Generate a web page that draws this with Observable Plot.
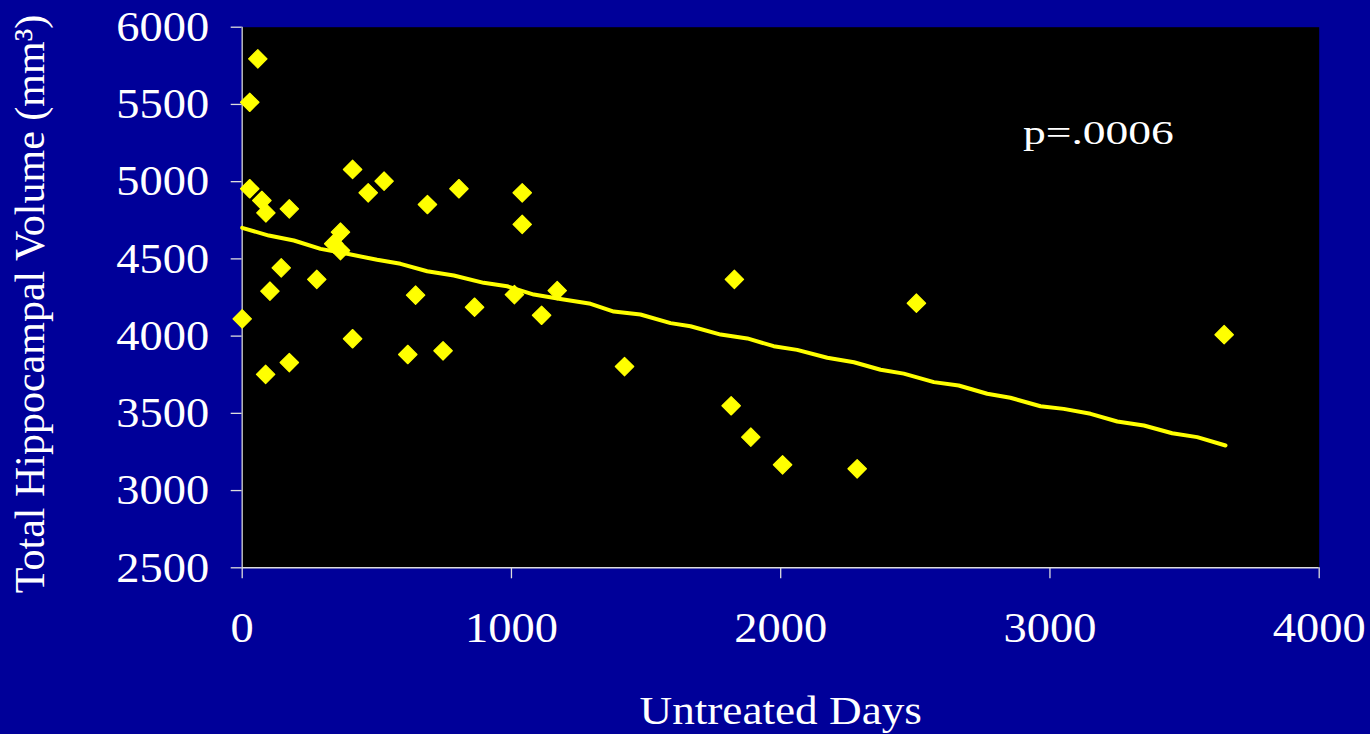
<!DOCTYPE html>
<html>
<head>
<meta charset="utf-8">
<script src="https://cdn.jsdelivr.net/npm/d3@7"></script>
<script src="https://cdn.jsdelivr.net/npm/@observablehq/plot@0.6"></script>
<style>
  html, body { margin: 0; padding: 0; background: #000099; overflow: hidden; }
</style>
</head>
<body>
<div id="chart"></div>
<script>
// ---- Data ----
const untreatedDays = [0, 28, 58, 28, 73, 88, 87, 103, 145, 175, 175, 277, 340, 365, 365, 410, 410, 468, 527, 615, 644, 688, 746, 805, 863, 1011, 1040, 1040, 1112, 1170, 1420, 1816, 1828, 1889, 2007, 2284, 2504, 3647];
const volume =        [4112, 5514, 5795, 4954, 4878, 4798, 3752, 4291, 4442, 4824, 3829, 4367, 4598, 4673, 4554, 5079, 3983, 4928, 5003, 3881, 4265, 4852, 3905, 4954, 4187, 4269, 4928, 4723, 4135, 4295, 3803, 3549, 4367, 3346, 3167, 3141, 4213, 4009];

const fitDays = [0, 99, 192, 291, 390, 501, 588, 687, 786, 897, 984, 1083, 1182, 1294, 1380, 1479, 1591, 1665, 1777, 1876, 1974, 2061, 2173, 2272, 2371, 2457, 2569, 2661, 2767, 2853, 2965, 3051, 3151, 3250, 3349, 3454, 3547, 3652];
const fitVolume = [4701, 4651, 4619, 4565, 4533, 4494, 4468, 4420, 4392, 4345, 4323, 4269, 4240, 4209, 4159, 4140, 4084, 4064, 4010, 3985, 3935, 3911, 3860, 3831, 3782, 3757, 3702, 3680, 3627, 3601, 3546, 3529, 3497, 3447, 3421, 3371, 3346, 3292];

const xTicks = [0, 1000, 2000, 3000, 4000];
const yTicks = [2500, 3000, 3500, 4000, 4500, 5000, 5500, 6000];

const xTitle = "Untreated Days";
const yTitle = "Total Hippocampal Volume (mm³)";
const annotation = [{x: 3180, y: 5309, text: "p=.0006"}];

// ---- Build tables ----
const points = untreatedDays.map((d, i) => ({days: d, vol: volume[i]}));
const fit = fitDays.map((d, i) => ({days: d, vol: fitVolume[i]}));

const yellow = "#ffff00";
const plain = d3.format("d");

const chart = Plot.plot({
  width: 1370,
  height: 734,
  marginLeft: 241.7,
  marginRight: 51.3,
  marginTop: 26.7,
  marginBottom: 166.7,
  style: {background: "#000099", color: "white", fontFamily: "'Liberation Serif', 'Times New Roman', serif", fontSize: "43px"},
  x: {domain: [0, 4000]},
  y: {domain: [2500, 6000]},
  marks: [
    Plot.frame({fill: "black", stroke: "none"}),
    Plot.axisY({ticks: yTicks, tickFormat: plain, tickSize: 11, tickPadding: 22, stroke: "#dddddd", strokeWidth: 1.3, fill: "white", label: null, fontSize: 43}),
    Plot.axisX({ticks: xTicks, tickFormat: plain, tickSize: 11, tickPadding: 33, stroke: "#dddddd", strokeWidth: 1.3, fill: "white", label: null, fontSize: 43}),
    Plot.ruleX([0], {stroke: "#bbbbbb", strokeWidth: 1.5}),
    Plot.ruleY([2500], {stroke: "#dddddd", strokeWidth: 1.5}),
    Plot.line(fit, {x: "days", y: "vol", stroke: yellow, strokeWidth: 4, strokeLinejoin: "round", strokeLinecap: "round"}),
    Plot.dot(points, {x: "days", y: "vol", symbol: "diamond2", r: 8.3, fill: yellow, stroke: yellow, strokeWidth: 1.2, strokeLinejoin: "round"}),
    Plot.text(annotation, {x: "x", y: "y", text: "text", fill: "white", fontSize: 33, textAnchor: "middle", lineAnchor: "middle"}),
    Plot.text([xTitle], {frameAnchor: "bottom", dy: 143, fill: "white", fontSize: 40, textAnchor: "middle", lineAnchor: "middle"}),
    Plot.text([yTitle], {frameAnchor: "left", dx: -211.7, dy: 6.5, rotate: -90, fill: "white", fontSize: 42, textAnchor: "middle", lineAnchor: "middle"})
  ]
});

document.getElementById("chart").appendChild(chart);

// Horizontal text in the reference is stretched sideways (slide aspect)
function stretch(el, f) {
  const L = el.getComputedTextLength();
  if (L > 0) {
    el.setAttribute("textLength", (L * f).toFixed(1));
    el.setAttribute("lengthAdjust", "spacingAndGlyphs");
  }
}
d3.select(chart).selectAll("text").each(function() {
  const t = this.textContent.trim();
  if (/^\d+$/.test(t)) stretch(this, 1.08);
  else if (t === xTitle) stretch(this, 1.13);
  else if (t === "p=.0006") stretch(this, 1.38);
});
</script>
</body>
</html>
